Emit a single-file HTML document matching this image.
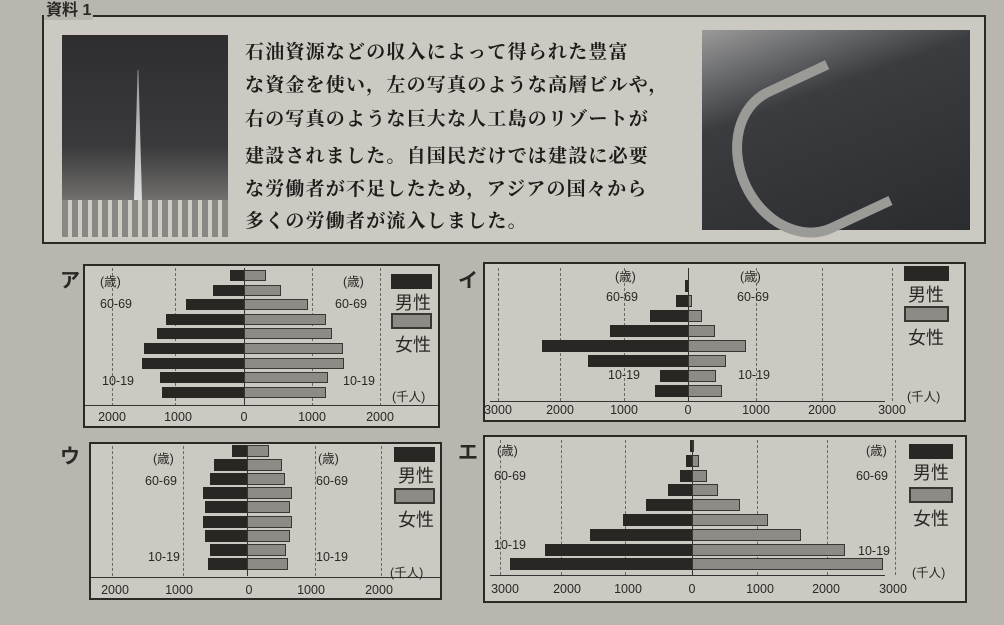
<!DOCTYPE html>
<html><head><meta charset="utf-8"><style>
body{margin:0;width:1004px;height:625px;overflow:hidden;background:#b9b5af;position:relative;font-family:"Liberation Sans","Noto Sans CJK JP",sans-serif;color:#2a2725}
.a{position:absolute}
.box{position:absolute;border:2px solid #2b2826;background:#ccc8c2;box-sizing:border-box}
.t{position:absolute;font-size:12.5px;white-space:nowrap;font-family:"Liberation Sans","Noto Sans CJK JP",sans-serif;color:#2a2725}
.jp{position:absolute;font-size:18px;white-space:nowrap}
.g{position:absolute;width:0;border-left:1px dashed #6a6662}
.m{position:absolute;background:#2a2624}
.f{position:absolute;background:#8e8a85;border:1px solid #3a3633;box-sizing:border-box}
.txt{position:absolute;left:245px;font-size:19px;letter-spacing:1.2px;white-space:nowrap;font-family:"Noto Serif CJK SC","Noto Sans CJK JP",serif;color:#1e1c1a;font-weight:bold}
</style></head><body>
<div class="box" style="left:42px;top:15px;width:944px;height:229px"></div>
<div class="a" style="left:44px;top:2px;font-size:16px;font-weight:bold;background:#b9b5af;padding:0 2px;line-height:18px">資料 1</div>
<div class="a" style="left:62px;top:35px;width:166px;height:202px;background:linear-gradient(#2e2e30,#3a3a3c 55%,#6a6866 78%,#a09e98)"></div>
<div class="a" style="left:134px;top:70px;width:8px;height:130px;background:linear-gradient(#999,#ddd);clip-path:polygon(45% 0,55% 0,100% 100%,0 100%)"></div>
<div class="a" style="left:62px;top:200px;width:166px;height:37px;background:repeating-linear-gradient(90deg,#8a8884 0 6px,#d0ccc4 6px 10px)"></div>
<div class="a" style="left:702px;top:30px;width:268px;height:200px;background:linear-gradient(160deg,#9a9a9a,#3a3c40 35%,#2a2c30)"></div>
<div class="a" style="left:735px;top:80px;width:120px;height:140px;border-radius:50% 0 0 50%;border:10px solid #9a9a96;border-right:none;transform:rotate(-25deg)"></div>
<div class="txt" style="top:37px">石油資源などの収入によって得られた豊富</div>
<div class="txt" style="top:70px">な資金を使い，左の写真のような高層ビルや，</div>
<div class="txt" style="top:104px">右の写真のような巨大な人工島のリゾートが</div>
<div class="txt" style="top:141px">建設されました。自国民だけでは建設に必要</div>
<div class="txt" style="top:174px">な労働者が不足したため，アジアの国々から</div>
<div class="txt" style="top:206px">多くの労働者が流入しました。</div>

<div class="jp" style="left:60px;top:264px;font-size:20px;font-weight:bold">ア</div>
<div class="jp" style="left:458px;top:264px;font-size:20px;font-weight:bold">イ</div>
<div class="jp" style="left:60px;top:440px;font-size:20px;font-weight:bold">ウ</div>
<div class="jp" style="left:458px;top:436px;font-size:20px;font-weight:bold">エ</div>

<div class="box" style="left:83px;top:264px;width:357px;height:164px"></div>
<div class="box" style="left:483px;top:262px;width:483px;height:160px"></div>
<div class="box" style="left:89px;top:442px;width:353px;height:158px"></div>
<div class="box" style="left:483px;top:435px;width:484px;height:168px"></div>

<div id="c"></div>
<script>
var c=document.getElementById('c'),h='';
function P(o){
 o.grid.forEach(function(x){h+='<div class="g" style="left:'+x+'px;top:'+o.gt+'px;height:'+o.gh+'px"></div>'});
 if(o.sep)h+='<div class="a" style="left:'+o.sep[0]+'px;top:'+o.sep[1]+'px;width:'+o.sep[2]+'px;border-top:1px solid #333"></div>';
 h+='<div class="a" style="left:'+o.z+'px;top:'+o.gt+'px;height:'+o.gh+'px;border-left:1px solid #333"></div>';
 for(var i=0;i<o.m.length;i++){var y=o.y0+i*o.p;
  h+='<div class="m" style="left:'+(o.z-o.m[i])+'px;top:'+y+'px;width:'+o.m[i]+'px;height:'+o.bh+'px"></div>';
  if(o.f[i])h+='<div class="f" style="left:'+o.z+'px;top:'+y+'px;width:'+o.f[i]+'px;height:'+o.bh+'px"></div>';}
 o.ax.forEach(function(a){h+='<div class="t" style="left:'+(a[0]-16)+'px;top:'+o.ay+'px;width:32px;text-align:center">'+a[1]+'</div>'});
 var L=o.leg;h+='<div class="m" style="left:'+L[0]+'px;top:'+L[1]+'px;width:'+L[2]+'px;height:15px"></div>';
 h+='<div class="jp" style="left:'+(L[0]+4)+'px;top:'+(L[1]+15)+'px">男性</div>';
 h+='<div class="f" style="left:'+L[0]+'px;top:'+(L[1]+L[3])+'px;width:'+L[2]+'px;height:16px;border-width:2px"></div>';
 h+='<div class="jp" style="left:'+(L[0]+4)+'px;top:'+(L[1]+L[3]+18)+'px">女性</div>';
 o.lab.forEach(function(a){h+='<div class="t" style="left:'+a[0]+'px;top:'+a[1]+'px">'+a[2]+'</div>'});
}
P({z:244,grid:[112,175,312,380],gt:268,gh:138,sep:[85,405,353],y0:270,p:14.6,bh:11,
 m:[14,31,58,78,87,100,102,84,82],f:[22,37,64,82,88,99,100,84,82],ay:410,
 ax:[[112,'2000'],[178,'1000'],[244,'0'],[312,'1000'],[380,'2000']],leg:[391,274,41,39],
 lab:[[100,271,'(歳)'],[343,271,'(歳)'],[100,297,'60-69'],[335,297,'60-69'],[102,374,'10-19'],[343,374,'10-19'],[392,386,'(千人)']]});
P({z:688,grid:[498,560,624,756,822,892],gt:268,gh:133,sep:[490,401,395],y0:280,p:15,bh:12,
 m:[3,12,38,78,146,100,28,33],f:[0,4,14,27,58,38,28,34],ay:403,
 ax:[[498,'3000'],[560,'2000'],[624,'1000'],[688,'0'],[756,'1000'],[822,'2000'],[892,'3000']],leg:[904,266,45,40],
 lab:[[615,266,'(歳)'],[740,266,'(歳)'],[606,290,'60-69'],[737,290,'60-69'],[608,368,'10-19'],[738,368,'10-19'],[907,386,'(千人)']]});
P({z:247,grid:[112,183,315,381],gt:446,gh:130,sep:[91,577,349],y0:445,p:14.1,bh:12,
 m:[15,33,37,44,42,44,42,37,39],f:[22,35,38,45,43,45,43,39,41],ay:583,
 ax:[[115,'2000'],[179,'1000'],[249,'0'],[311,'1000'],[379,'2000']],leg:[394,447,41,41],
 lab:[[153,448,'(歳)'],[318,448,'(歳)'],[145,474,'60-69'],[316,474,'60-69'],[148,550,'10-19'],[316,550,'10-19'],[390,562,'(千人)']]});
P({z:692,grid:[500,561,625,757,827,895],gt:440,gh:135,sep:[490,575,395],y0:440,p:14.8,bh:12,
 m:[2,6,12,24,46,69,102,147,182],f:[2,7,15,26,48,76,109,153,191],ay:582,
 ax:[[505,'3000'],[567,'2000'],[628,'1000'],[692,'0'],[760,'1000'],[826,'2000'],[893,'3000']],leg:[909,444,44,43],
 lab:[[497,440,'(歳)'],[866,440,'(歳)'],[494,469,'60-69'],[856,469,'60-69'],[494,538,'10-19'],[858,544,'10-19'],[912,562,'(千人)']]});
c.innerHTML=h;
</script>
</body></html>
